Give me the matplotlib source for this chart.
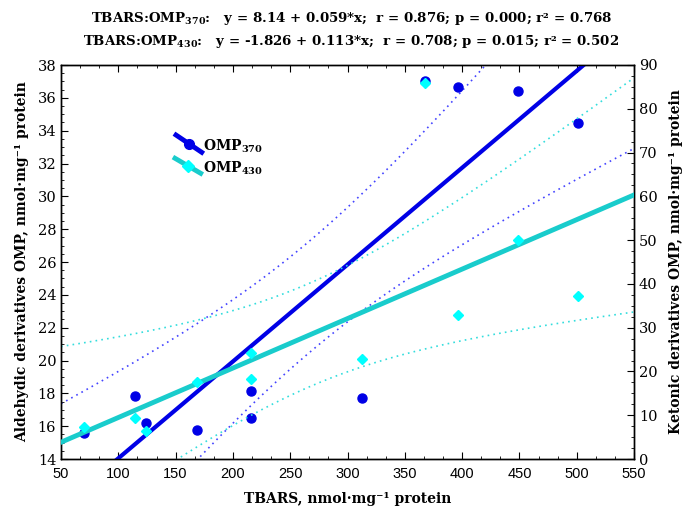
import numpy as np
import matplotlib
matplotlib.use("Agg")
import matplotlib.pyplot as plt
from matplotlib.ticker import MultipleLocator, AutoMinorLocator

plt.rcParams['mathtext.fontset'] = 'dejavuserif'

# ---- data ----
tbars = [70, 115, 124, 169, 216, 216, 313, 368, 396, 449, 501]
omp370 = [15.57, 17.82, 16.17, 15.78, 18.14, 16.5, 17.72, 37.04, 36.64, 36.43, 34.46]
omp430 = [7.4, 9.3, 6.5, 17.7, 24.1, 18.3, 22.8, 85.8, 32.9, 50.1, 37.2]

# regression coefficients shown in the title
b0_370, b1_370 = 8.14, 0.059
b0_430, b1_430 = -1.826, 0.113
t_crit = 2.262  # t(0.975, 9)

title1 = r'TBARS:OMP$_{\mathbf{370}}$:   y = 8.14 + 0.059*x;  r = 0.876; p = 0.000; r² = 0.768'
title2 = r'TBARS:OMP$_{\mathbf{430}}$:   y = -1.826 + 0.113*x;  r = 0.708; p = 0.015; r² = 0.502'

BLUE = '#0000e6'
BLUE_DOT = '#4444ff'
CYAN_LINE = '#19cccc'
CYAN_MK = '#00ffff'
CYAN_DOT = '#33dddd'

x = np.array(tbars, float)


def ci_band(xx, yy, b0, b1, xs):
    n = len(xx)
    res = yy - (b0 + b1 * xx)
    s = np.sqrt(np.sum(res ** 2) / (n - 2))
    sxx = np.sum((xx - xx.mean()) ** 2)
    se = s * np.sqrt(1.0 / n + (xs - xx.mean()) ** 2 / sxx)
    yh = b0 + b1 * xs
    return yh, yh - t_crit * se, yh + t_crit * se


fig = plt.figure(figsize=(6.86, 5.11), dpi=100)
ax = fig.add_axes([61 / 686, 1 - 459 / 511, 573 / 686, 394 / 511])
ax2 = ax.twinx()

dots = (0, (1, 2.5))
xs = np.linspace(50, 550, 400)
yh, lo, hi = ci_band(x, np.array(omp370), b0_370, b1_370, xs)
ax.plot(xs, lo, linestyle=dots, color=BLUE_DOT, lw=1.2, zorder=2)
ax.plot(xs, hi, linestyle=dots, color=BLUE_DOT, lw=1.2, zorder=2)
ax.plot(xs, yh, '-', color=BLUE, lw=3.0, zorder=3)
ax.plot(x, omp370, 'o', color=BLUE, ms=6.5, mec=BLUE, zorder=4)

yh2, lo2, hi2 = ci_band(x, np.array(omp430), b0_430, b1_430, xs)
ax2.plot(xs, lo2, linestyle=dots, color=CYAN_DOT, lw=1.2, zorder=2)
ax2.plot(xs, hi2, linestyle=dots, color=CYAN_DOT, lw=1.2, zorder=2)
ax2.plot(xs, yh2, '-', color=CYAN_LINE, lw=3.5, zorder=3)
ax2.plot(x, omp430, 'D', color=CYAN_MK, ms=5, mec=CYAN_MK, zorder=4)

ax.set_xlim(50, 550)
ax.set_ylim(14, 38)
ax2.set_ylim(0, 90)

ax.xaxis.set_major_locator(MultipleLocator(50))
ax.xaxis.set_minor_locator(AutoMinorLocator(3))
ax.yaxis.set_major_locator(MultipleLocator(2))
ax.yaxis.set_minor_locator(AutoMinorLocator(4))
ax2.yaxis.set_major_locator(MultipleLocator(10))
ax2.yaxis.set_minor_locator(AutoMinorLocator(4))

ax.tick_params(axis='x', which='both', direction='in', top=True, labelsize=10.5, pad=6)
ax.tick_params(axis='y', which='both', direction='in', left=True, right=False)
ax.tick_params(which='major', length=5, width=0.8)
ax.tick_params(which='minor', length=2.5, width=0.6)
ax2.tick_params(axis='y', which='both', direction='in')
ax2.tick_params(which='major', length=5, width=0.8)
ax2.tick_params(which='minor', length=2.5, width=0.6)

for lab in ax.get_xticklabels():
    lab.set_fontfamily('Liberation Sans')
for lab in ax.get_yticklabels():
    lab.set_fontfamily('DejaVu Serif')
    lab.set_fontsize(10.5)
for lab in ax2.get_yticklabels():
    lab.set_fontfamily('DejaVu Serif')
    lab.set_fontsize(10.5)

for a in (ax, ax2):
    for sp in a.spines.values():
        sp.set_linewidth(1.0)

lab_kw = dict(fontfamily='DejaVu Serif', fontweight='bold', fontsize=10)
ax.set_xlabel('TBARS, nmol·mg⁻¹ protein', labelpad=13, **lab_kw)
ax.xaxis.set_label_coords(0.5, -0.085)
ax.set_ylabel('Aldehydic derivatives OMP, nmol·mg⁻¹ protein', labelpad=6, **lab_kw)
ax2.set_ylabel('Ketonic derivatives OMP, nmol·mg⁻¹ protein', rotation=90, labelpad=8, **lab_kw)

# legend (drawn as in the reference: slanted segments)
tr = ax.transAxes
ax.plot([0.2007, 0.2456], [0.8223, 0.7784], '-', color=BLUE, lw=3.5, transform=tr, clip_on=False, zorder=6)
ax.plot([0.2231], [0.8003], 'o', color=BLUE, ms=7, transform=tr, clip_on=False, zorder=7)
ax.plot([0.199, 0.2438], [0.7632, 0.7251], '-', color=CYAN_LINE, lw=3.5, transform=tr, clip_on=False, zorder=6)
ax.plot([0.2214], [0.7441], 'D', color=CYAN_MK, ms=6, transform=tr, clip_on=False, zorder=7)
ax.text(0.2478, 0.7926, r'OMP$_{\mathbf{370}}$', transform=tr, va='center', ha='left', **lab_kw)
ax.text(0.2478, 0.7386, r'OMP$_{\mathbf{430}}$', transform=tr, va='center', ha='left', **lab_kw)

title_kw = dict(lab_kw, fontsize=9.6)
fig.text(0.512, 0.963, title1, ha='center', va='center', **title_kw)
fig.text(0.512, 0.918, title2, ha='center', va='center', **title_kw)

fig.savefig('out.png', dpi=100)
